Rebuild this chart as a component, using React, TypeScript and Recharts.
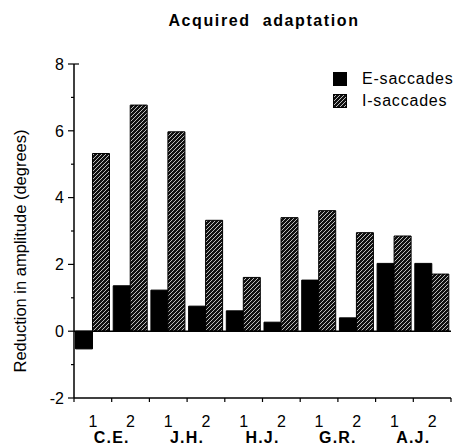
import React from 'react';
import { BarChart, Bar, XAxis, YAxis, ReferenceLine } from 'recharts';

const sessions = ['1', '2', '1', '2', '1', '2', '1', '2', '1', '2'];
const subjects = ['C.E.', 'J.H.', 'H.J.', 'G.R.', 'A.J.'];
const eSaccades = [-0.53, 1.36, 1.23, 0.75, 0.61, 0.27, 1.53, 0.4, 2.03, 2.03];
const iSaccades = [5.32, 6.77, 5.97, 3.32, 1.61, 3.4, 3.61, 2.95, 2.85, 1.71];
const yTicks = [-2, -1, 0, 1, 2, 3, 4, 5, 6, 7, 8];
const seriesNames = ['E-saccades', 'I-saccades'];

const W = 462;
const H = 446;
const MARGIN = { top: 64, right: 11, bottom: 0, left: 0 };
const Y_AXIS_W = 74;
const X_AXIS_H = 48;
const PLOT_W = W - MARGIN.left - MARGIN.right - Y_AXIS_W;
const FONT = '"Liberation Sans", Arial, Helvetica, sans-serif';

const data = sessions.map((s, i) => ({
  key: i,
  session: s,
  subject: subjects[Math.floor(i / 2)],
  E: eSaccades[i],
  I: iSaccades[i],
}));

const HatchDef = ({ id }: { id: string }) => (
  <pattern id={id} patternUnits="userSpaceOnUse" width={4} height={4}>
    <rect x={0} y={0} width={4} height={4} fill="#111" />
    <path d="M-1,1 l2,-2 M0,4 l4,-4 M3,5 l2,-2" stroke="#d0d0d0" strokeWidth={0.9} />
  </pattern>
);

const XTick = (props: any) => {
  const { x, y, payload, width } = props;
  const n = data.length;
  const bw = (typeof width === 'number' && width > 0 ? width : PLOT_W) / n;
  const i = payload.value as number;
  const d = data[i];
  if (!d) return <g />;
  return (
    <g>
      <line x1={x - bw / 2} x2={x - bw / 2} y1={y} y2={y + 4} stroke="#000" strokeWidth={1.2} />
      {i === n - 1 && (
        <line x1={x + bw / 2} x2={x + bw / 2} y1={y} y2={y + 4} stroke="#000" strokeWidth={1.2} />
      )}
      <text x={x} y={y + 29} textAnchor="middle" fontSize={16} fontFamily={FONT} fill="#000">
        {d.session}
      </text>
      {i % 2 === 0 && (
        <text
          x={x + bw / 2}
          y={y + 45}
          textAnchor="middle"
          fontSize={16}
          fontWeight="bold"
          fontFamily={FONT}
          fill="#000"
          letterSpacing={1.2}
        >
          {d.subject}
        </text>
      )}
    </g>
  );
};

const YTick = (props: any) => {
  const { x, y, payload } = props;
  const v = payload.value as number;
  const major = v % 2 === 0;
  return (
    <g>
      <line x1={x - (major ? 6 : 3)} x2={x} y1={y} y2={y} stroke="#000" strokeWidth={1.2} />
      {v === 8 && <line x1={x} x2={x + 5} y1={y} y2={y} stroke="#000" strokeWidth={1.2} />}
      {major && (
        <text x={x - 10} y={y} dy="0.36em" textAnchor="end" fontSize={16} fontFamily={FONT} fill="#000">
          {v}
        </text>
      )}
    </g>
  );
};

const YLabel = (props: any) => {
  const vb = props.viewBox || {};
  const cx = (vb.x ?? 0) + 20;
  const cy = (vb.y ?? 0) + (vb.height ?? 0) / 2 + 20;
  return (
    <text
      x={cx}
      y={cy}
      transform={`rotate(-90 ${cx} ${cy})`}
      textAnchor="middle"
      dominantBaseline="central"
      fontSize={16.5}
      fontFamily={FONT}
      fill="#000"
    >
      Reduction in amplitude (degrees)
    </text>
  );
};

const LegendBox = () => (
  <div
    style={{
      position: 'absolute',
      top: 68,
      left: 333,
      width: 130,
      fontFamily: FONT,
      fontSize: 16,
      color: '#000',
      letterSpacing: 0.8,
    }}
  >
    {seriesNames.map((name, idx) => (
      <div key={name} style={{ display: 'flex', alignItems: 'center', height: 22 }}>
        <svg width={14} height={14} style={{ marginRight: 15 }}>
          <defs>
            <HatchDef id={`hatchLegend${idx}`} />
          </defs>
          <rect
            x={0.5}
            y={0.5}
            width={13}
            height={13}
            fill={idx === 0 ? '#000' : `url(#hatchLegend${idx})`}
            stroke="#000"
          />
        </svg>
        <span>{name}</span>
      </div>
    ))}
  </div>
);

export default function App() {
  return (
    <div style={{ position: 'absolute', left: 0, top: 0, width: W, height: H, background: '#fff' }}>
      <div
        style={{
          position: 'absolute',
          top: 12,
          left: 0,
          width: 528,
          textAlign: 'center',
          fontFamily: FONT,
          fontWeight: 'bold',
          fontSize: 16,
          letterSpacing: 1.6,
          color: '#000',
          whiteSpace: 'pre',
        }}
      >
        {'Acquired  adaptation'}
      </div>
      <BarChart width={W} height={H} data={data} margin={MARGIN} barCategoryGap="4%" barGap={0}>
        <defs>
          <HatchDef id="hatchBar" />
        </defs>
        <XAxis
          dataKey="key"
          type="category"
          height={X_AXIS_H}
          tickLine={false}
          tickSize={0}
          tickMargin={0}
          interval={0}
          axisLine={{ stroke: '#000', strokeWidth: 1.5 }}
          tick={<XTick />}
        />
        <YAxis
          type="number"
          domain={[-2, 8]}
          ticks={yTicks}
          interval={0}
          width={Y_AXIS_W}
          tickLine={false}
          tickSize={0}
          tickMargin={0}
          axisLine={{ stroke: '#000', strokeWidth: 1.5 }}
          tick={<YTick />}
          label={<YLabel />}
        />
        <ReferenceLine y={0} stroke="#000" strokeWidth={1.5} />
        <Bar dataKey="E" name={seriesNames[0]} fill="#000" stroke="#000" strokeWidth={1} isAnimationActive={false} />
        <Bar dataKey="I" name={seriesNames[1]} fill="url(#hatchBar)" stroke="#000" strokeWidth={1} isAnimationActive={false} />
      </BarChart>
      <LegendBox />
    </div>
  );
}
